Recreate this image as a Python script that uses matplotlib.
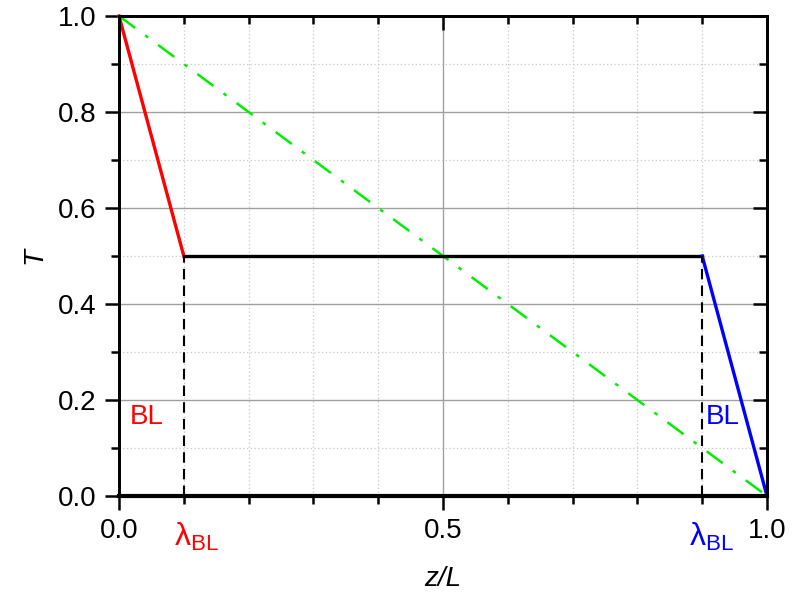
import matplotlib
matplotlib.use("Agg")
import matplotlib.pyplot as plt
import numpy as np
from matplotlib.ticker import MultipleLocator, FixedLocator, NullFormatter

plt.rcParams['font.family'] = ['Liberation Sans', 'DejaVu Sans']
plt.rcParams['mathtext.fontset'] = 'custom'
plt.rcParams['mathtext.rm'] = 'Liberation Sans'
plt.rcParams['mathtext.it'] = 'Liberation Sans:italic'

# Data
lam = 0.1
z_red = [0.0, lam]
T_red = [1.0, 0.5]
z_black = [lam, 1 - lam]
T_black = [0.5, 0.5]
z_blue = [1 - lam, 1.0]
T_blue = [0.5, 0.0]
z_green = [0.0, 1.0]
T_green = [1.0, 0.0]
z_base = [0.0, 1.0]
T_base = [0.0, 0.0]
x_major_ticks = [0.0, 0.5, 1.0]
x_major_labels = ['0.0', '0.5', '1.0']
y_major_ticks = [0.0, 0.2, 0.4, 0.6, 0.8, 1.0]
y_major_labels = ['0.0', '0.2', '0.4', '0.6', '0.8', '1.0']

fig = plt.figure(figsize=(7.92, 6.01), dpi=100)
ax = fig.add_axes([119/792, 105/601, (767-119)/792, (496-16)/601])

FS = 20
TW = 1.8

ax.set_xlim(0, 1)
ax.set_ylim(0, 1)
ax.xaxis.set_major_locator(FixedLocator(x_major_ticks))
ax.xaxis.set_minor_locator(MultipleLocator(0.1))
ax.yaxis.set_major_locator(FixedLocator(y_major_ticks))
ax.yaxis.set_minor_locator(MultipleLocator(0.1))
ax.set_xticklabels(x_major_labels)
ax.set_yticklabels(y_major_labels)
ax.grid(True, which='major', color='#a0a0a0', linewidth=1.0, linestyle='-', zorder=0)
ax.grid(True, which='minor', color='#c8c8c8', linewidth=0.9, linestyle=(0, (1, 2)), zorder=0)
ax.set_axisbelow(True)

ax.plot(z_green, T_green, color='#00ee00', linewidth=1.8, linestyle=(0, (8, 5, 1.5, 5)), zorder=3)
ax.plot(z_red, T_red, color='#ff0000', linewidth=2.4, zorder=4, clip_on=False)
ax.plot(z_black, T_black, color='black', linewidth=2.4, zorder=4)
ax.plot(z_blue, T_blue, color='#0000ff', linewidth=2.4, zorder=4, clip_on=False)
ax.plot([lam, lam], [0, 0.5], color='black', linewidth=1.5, linestyle=(0, (5, 3)), zorder=4)
ax.plot([1 - lam, 1 - lam], [0, 0.5], color='black', linewidth=1.5, linestyle=(0, (5, 3)), zorder=4)
ax.plot(z_base, T_base, color='black', linewidth=3.0, zorder=5, clip_on=False)

ax.text(0.017, 0.165, 'BL', color='#ff0000', fontsize=FS, ha='left', va='center')
ax.text(0.905, 0.165, 'BL', color='#0000ff', fontsize=FS, ha='left', va='center')

for s in ax.spines.values():
    s.set_linewidth(TW)

ax.tick_params(which='major', direction='out', length=10, width=TW, labelsize=FS, pad=6,
               top=False, right=False)
ax.tick_params(which='minor', direction='out', length=6, width=TW, top=False, right=False)

# mirrored ticks on top and right pointing inward
top = ax.twiny()
top.set_xlim(0, 1)
top.xaxis.set_major_locator(FixedLocator(x_major_ticks))
top.xaxis.set_minor_locator(MultipleLocator(0.1))
top.xaxis.set_major_formatter(NullFormatter())
top.tick_params(which='major', direction='in', length=10, width=TW)
top.tick_params(which='minor', direction='in', length=6, width=TW)
top.patch.set_visible(False)
right = ax.twinx()
right.set_ylim(0, 1)
right.yaxis.set_major_locator(FixedLocator(y_major_ticks))
right.yaxis.set_minor_locator(MultipleLocator(0.1))
right.yaxis.set_major_formatter(NullFormatter())
right.tick_params(which='major', direction='in', length=10, width=TW)
right.tick_params(which='minor', direction='in', length=6, width=TW)
right.patch.set_visible(False)
for sa in (top, right):
    for s in sa.spines.values():
        s.set_linewidth(TW)

# lambda labels
lab = r'$\mathrm{λ}_{\mathrm{BL}}$'
ax.text(lam + 0.019, -0.085, lab, color='#ff0000', fontsize=FS + 3,
        ha='center', va='center', clip_on=False)
ax.text(1 - lam + 0.015, -0.085, lab, color='#0000ff', fontsize=FS + 3,
        ha='center', va='center', clip_on=False)

ax.set_xlabel('z/L', fontsize=FS, fontstyle='italic', labelpad=16)
ax.set_ylabel('T', fontsize=FS, fontstyle='italic', labelpad=8)

fig.savefig('out.png', dpi=100)
